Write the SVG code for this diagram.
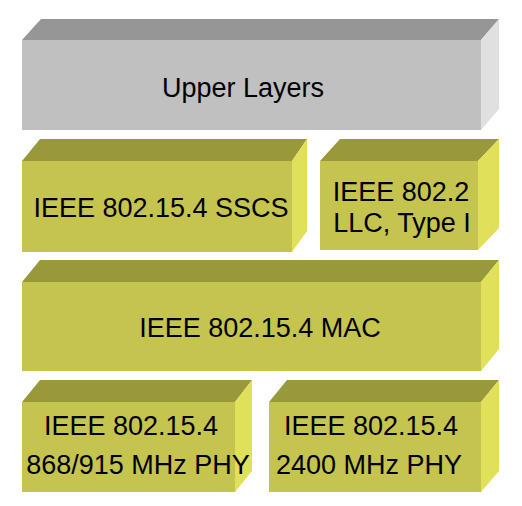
<svg xmlns="http://www.w3.org/2000/svg" width="522" height="506" viewBox="0 0 522 506">
<style>
.fy{fill:#C4C44F}.ty{fill:#99993B}.sy{fill:#E0E05A}
.fg{fill:#C0C0C0}.tg{fill:#969696}.sg{fill:#E0E0E0}
text{font-family:"Liberation Sans",Arial,sans-serif;font-size:27px;fill:#000;text-anchor:middle}
</style>
<rect width="522" height="506" fill="#fff"/>
<g id="upper">
<polygon class="tg" points="22,40 41,19 499,19 481,40"/>
<polygon class="sg" points="481,40 499,19 499,109 481,130"/>
<rect class="fg" x="22" y="40" width="459" height="90"/>
<text x="243" y="97">Upper Layers</text>
</g>
<g id="sscs">
<polygon class="ty" points="22,161 40,139 307,139 292,161"/>
<polygon class="sy" points="292,161 307,139 307,231 292,252"/>
<rect class="fy" x="22" y="161" width="270" height="91"/>
<text x="161" y="217">IEEE 802.15.4 SSCS</text>
</g>
<g id="llc">
<polygon class="ty" points="320,161 340,139 499,139 478,161"/>
<polygon class="sy" points="478,161 499,139 499,228 478,250"/>
<rect class="fy" x="320" y="161" width="158" height="89"/>
<text x="401" y="201">IEEE 802.2</text>
<text x="402" y="232">LLC, Type I</text>
</g>
<g id="mac">
<polygon class="ty" points="22,282 40,260 499,260 481,282"/>
<polygon class="sy" points="481,282 499,260 499,349 481,371"/>
<rect class="fy" x="22" y="282" width="459" height="89"/>
<text x="260" y="337">IEEE 802.15.4 MAC</text>
</g>
<g id="phy868">
<polygon class="ty" points="22,402 40,380 252,380 235,402"/>
<polygon class="sy" points="235,402 252,380 252,471 235,492"/>
<rect class="fy" x="22" y="402" width="213" height="90"/>
<text x="131" y="435">IEEE 802.15.4</text>
<text x="138" y="474">868/915 MHz PHY</text>
</g>
<g id="phy2400">
<polygon class="ty" points="269,402 287,380 499,380 481,402"/>
<polygon class="sy" points="481,402 499,380 499,471 481,492"/>
<rect class="fy" x="269" y="402" width="212" height="90"/>
<text x="371" y="435">IEEE 802.15.4</text>
<text x="369" y="474">2400 MHz PHY</text>
</g>
<g id="connectors"></g>
</svg>
